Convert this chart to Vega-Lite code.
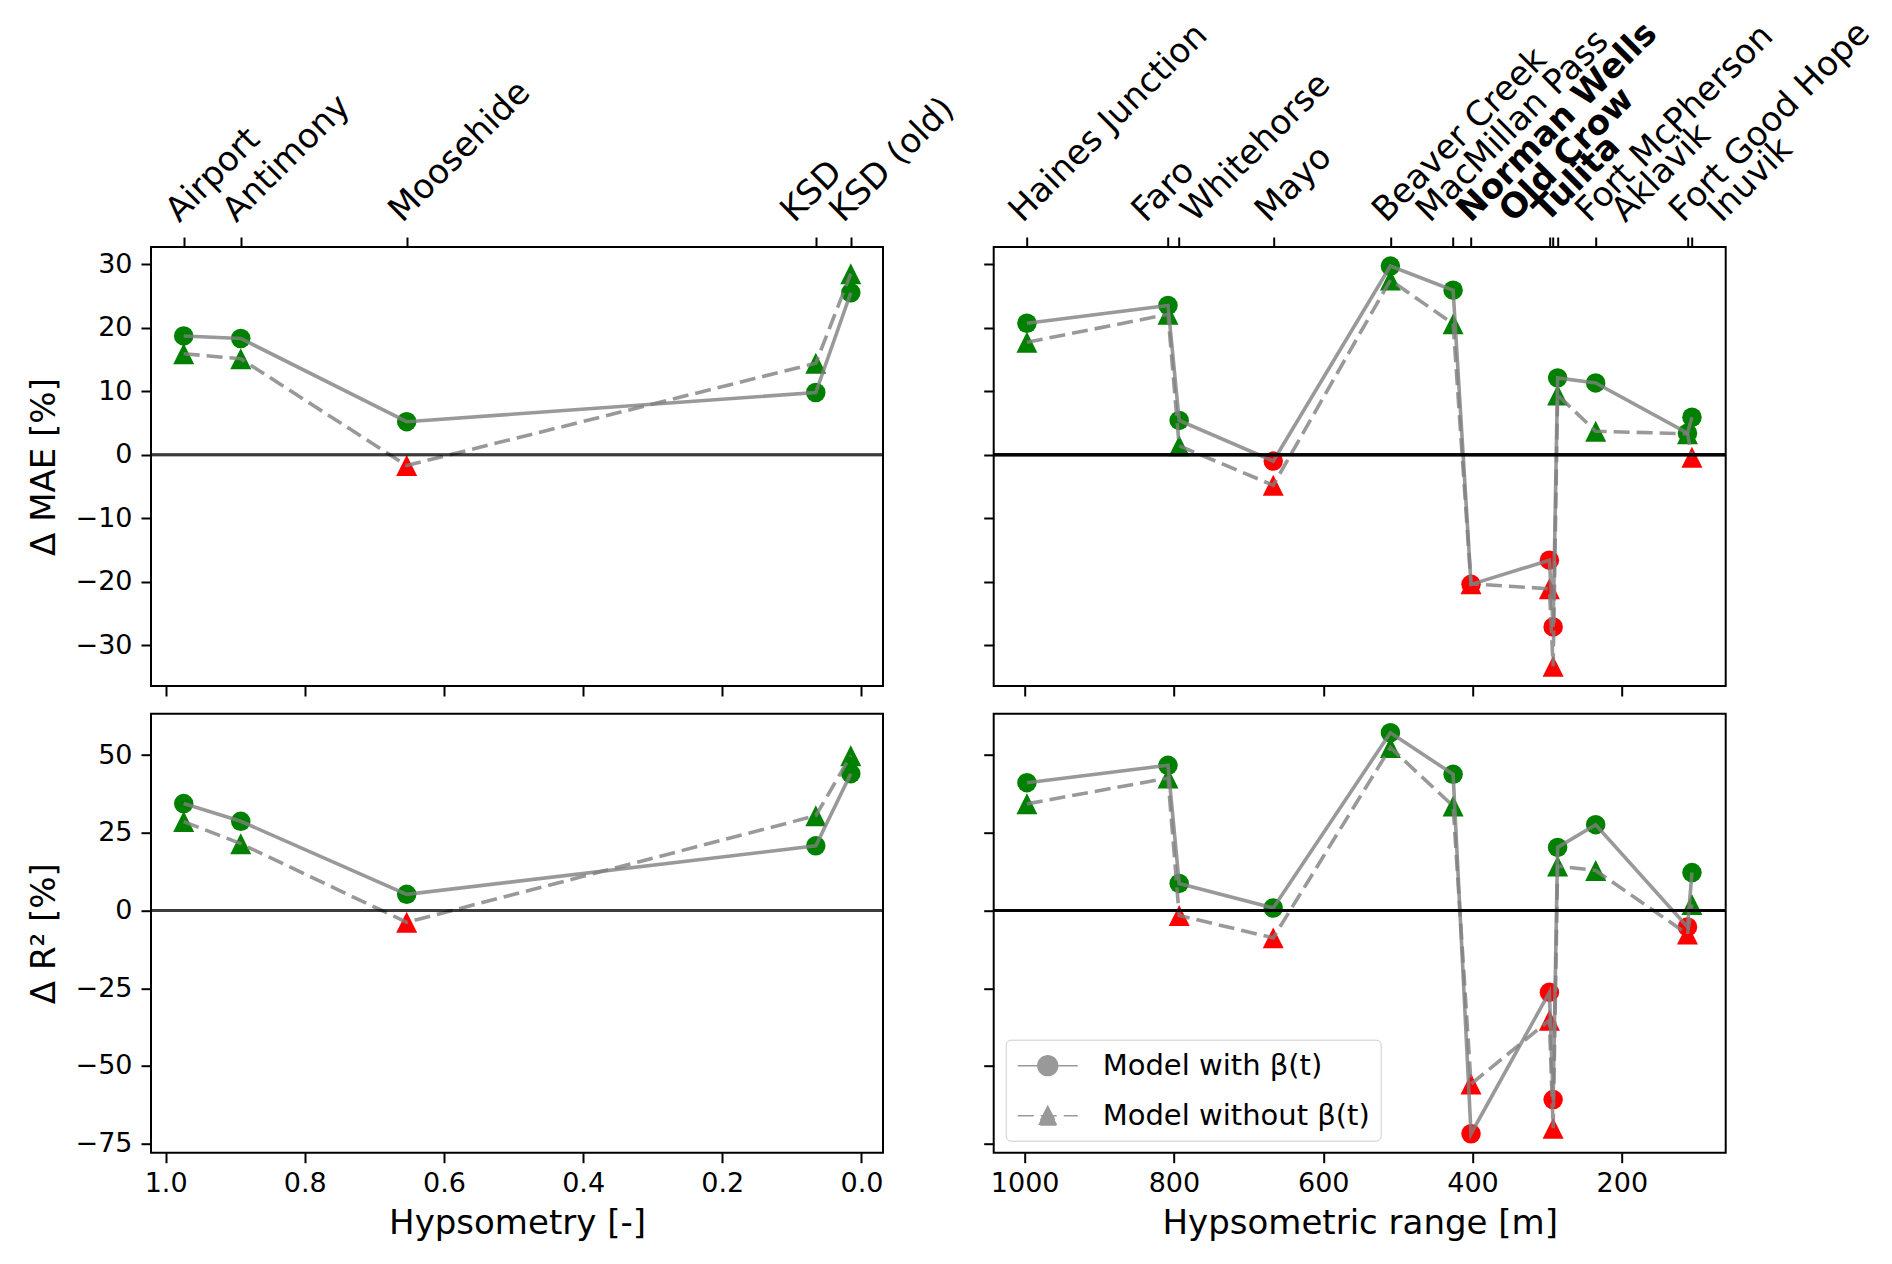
{
  "$schema": "https://vega.github.io/schema/vega-lite/v6.json",
  "background": "white",
  "padding": {"left": 26, "top": 14, "right": 5, "bottom": 5},
  "datasets": {
    "stations": [
      {"group": "hyps", "station": "Airport", "x": 0.974, "metric": "MAE", "beta": 18.7, "nobeta": 15.9},
      {"group": "hyps", "station": "Antimony", "x": 0.892, "metric": "MAE", "beta": 18.3, "nobeta": 15.1},
      {"group": "hyps", "station": "Moosehide", "x": 0.6535, "metric": "MAE", "beta": 5.2, "nobeta": -1.7},
      {"group": "hyps", "station": "KSD", "x": 0.0656, "metric": "MAE", "beta": 9.8, "nobeta": 14.4},
      {"group": "hyps", "station": "KSD (old)", "x": 0.0153, "metric": "MAE", "beta": 25.5, "nobeta": 28.5},
      {"group": "hyps", "station": "Airport", "x": 0.974, "metric": "R2", "beta": 34.4, "nobeta": 28.6},
      {"group": "hyps", "station": "Antimony", "x": 0.892, "metric": "R2", "beta": 28.7, "nobeta": 21.5},
      {"group": "hyps", "station": "Moosehide", "x": 0.6535, "metric": "R2", "beta": 5.2, "nobeta": -3.8},
      {"group": "hyps", "station": "KSD", "x": 0.0656, "metric": "R2", "beta": 20.8, "nobeta": 30.5},
      {"group": "hyps", "station": "KSD (old)", "x": 0.0153, "metric": "R2", "beta": 44.0, "nobeta": 49.8},
      {"group": "range", "station": "Haines Junction", "x": 997, "metric": "MAE", "beta": 20.7, "nobeta": 17.7},
      {"group": "range", "station": "Faro", "x": 808, "metric": "MAE", "beta": 23.5, "nobeta": 22.1},
      {"group": "range", "station": "Whitehorse", "x": 793, "metric": "MAE", "beta": 5.4, "nobeta": 1.4},
      {"group": "range", "station": "Mayo", "x": 667, "metric": "MAE", "beta": -1.0, "nobeta": -4.8},
      {"group": "range", "station": "Beaver Creek", "x": 510, "metric": "MAE", "beta": 29.7, "nobeta": 27.5},
      {"group": "range", "station": "MacMillan Pass", "x": 426, "metric": "MAE", "beta": 25.9, "nobeta": 20.6},
      {"group": "range", "station": "Norman Wells", "x": 402, "metric": "MAE", "beta": -20.4, "nobeta": -20.3},
      {"group": "range", "station": "Old Crow", "x": 297, "metric": "MAE", "beta": -16.6, "nobeta": -21.1},
      {"group": "range", "station": "Tulita", "x": 292, "metric": "MAE", "beta": -27.1, "nobeta": -33.3},
      {"group": "range", "station": "Fort McPherson", "x": 286, "metric": "MAE", "beta": 12.1, "nobeta": 9.4},
      {"group": "range", "station": "Aklavik", "x": 235, "metric": "MAE", "beta": 11.3, "nobeta": 3.7},
      {"group": "range", "station": "Fort Good Hope", "x": 112, "metric": "MAE", "beta": 3.4, "nobeta": 3.3},
      {"group": "range", "station": "Inuvik", "x": 106, "metric": "MAE", "beta": 5.9, "nobeta": -0.4},
      {"group": "range", "station": "Haines Junction", "x": 997, "metric": "R2", "beta": 41.1, "nobeta": 34.3},
      {"group": "range", "station": "Faro", "x": 808, "metric": "R2", "beta": 46.7, "nobeta": 42.6},
      {"group": "range", "station": "Whitehorse", "x": 793, "metric": "R2", "beta": 8.7, "nobeta": -1.6},
      {"group": "range", "station": "Mayo", "x": 667, "metric": "R2", "beta": 0.8, "nobeta": -8.8},
      {"group": "range", "station": "Beaver Creek", "x": 510, "metric": "R2", "beta": 57.2, "nobeta": 52.4},
      {"group": "range", "station": "MacMillan Pass", "x": 426, "metric": "R2", "beta": 43.8, "nobeta": 33.6},
      {"group": "range", "station": "Norman Wells", "x": 402, "metric": "R2", "beta": -71.8, "nobeta": -55.8},
      {"group": "range", "station": "Old Crow", "x": 297, "metric": "R2", "beta": -26.3, "nobeta": -35.3},
      {"group": "range", "station": "Tulita", "x": 292, "metric": "R2", "beta": -60.8, "nobeta": -70.0},
      {"group": "range", "station": "Fort McPherson", "x": 286, "metric": "R2", "beta": 20.3, "nobeta": 14.3},
      {"group": "range", "station": "Aklavik", "x": 235, "metric": "R2", "beta": 27.6, "nobeta": 12.9},
      {"group": "range", "station": "Fort Good Hope", "x": 112, "metric": "R2", "beta": -5.3, "nobeta": -7.6},
      {"group": "range", "station": "Inuvik", "x": 106, "metric": "R2", "beta": 12.2, "nobeta": 1.9}
    ]
  },
  "data": {"name": "stations"},
  "columns": 2,
  "spacing": {"row": 27.7, "column": 110.7},
  "bounds": "flush",
  "resolve": {
    "scale": {"shape": "independent", "strokeDash": "independent"},
    "legend": {"shape": "independent", "strokeDash": "independent"}
  },
  "concat": [
    {
      "width": 732,
      "height": 439,
      "transform": [{"filter": "datum.group == 'hyps' && datum.metric == 'MAE'"}],
      "resolve": {"axis": {"x": "independent", "y": "independent"}},
      "layer": [
        {
          "mark": {"type": "point", "shape": "M0,-1L-1,1L1,1Z", "filled": true, "size": 440, "opacity": 1, "strokeWidth": 0},
          "encoding": {
            "x": {"field": "x", "type": "quantitative", "scale": {"domain": [-0.031, 1.021], "reverse": true, "nice": false, "zero": false}, "axis": null},
            "y": {"field": "nobeta", "type": "quantitative", "scale": {"domain": [-36.4, 32.7], "nice": false, "zero": false}, "axis": null},
            "color": {"condition": {"test": "datum.nobeta > 0", "value": "#008000"}, "value": "#ff0000"}
          }
        },
        {
          "mark": {"type": "circle", "size": 380, "opacity": 1},
          "encoding": {
            "x": {
              "field": "x", "type": "quantitative",
              "scale": {"domain": [-0.031, 1.021], "reverse": true, "nice": false, "zero": false},
              "axis": {
                "orient": "top", "title": null, "values": [0.974, 0.892, 0.6535, 0.0656, 0.0153],
                "labelExpr": "datum.value > 0.9 ? 'Airport' : datum.value > 0.8 ? 'Antimony' : datum.value > 0.5 ? 'Moosehide' : datum.value > 0.04 ? 'KSD' : 'KSD (old)'",
                "labelOffset": {"condition": [
                  {"test": "datum.value > 0.04 && datum.value < 0.1", "value": -17},
                  {"test": "datum.value < 0.04", "value": -3}
                ], "value": 0},
                "labelAngle": -45, "labelAlign": "left", "labelBaseline": "bottom", "labelFontSize": 34, "labelPadding": 9,
                "labelOverlap": false, "labelBound": false, "labelFlush": false, "labelLimit": 1000
              }
            },
            "y": {"field": "beta", "type": "quantitative", "scale": {"domain": [-36.4, 32.7], "nice": false, "zero": false}, "axis": null},
            "color": {"condition": {"test": "datum.beta > 0", "value": "#008000"}, "value": "#ff0000"}
          }
        },
        {
          "mark": {"type": "line", "color": "#808080", "opacity": 0.8, "strokeWidth": 3.6},
          "encoding": {
            "x": {"field": "x", "type": "quantitative", "scale": {"domain": [-0.031, 1.021], "reverse": true, "nice": false, "zero": false},
              "axis": {"orient": "bottom", "values": [0, 0.2, 0.4, 0.6, 0.8, 1], "labels": false, "title": null}},
            "y": {"field": "beta", "type": "quantitative", "scale": {"domain": [-36.4, 32.7], "nice": false, "zero": false},
              "axis": {"orient": "left", "values": [-30, -20, -10, 0, 10, 20, 30], "title": "Δ MAE [%]"}}
          }
        },
        {
          "mark": {"type": "line", "color": "#808080", "opacity": 0.8, "strokeWidth": 3.6, "strokeDash": [16, 7]},
          "encoding": {
            "x": {"field": "x", "type": "quantitative", "scale": {"domain": [-0.031, 1.021], "reverse": true, "nice": false, "zero": false}, "axis": null},
            "y": {"field": "nobeta", "type": "quantitative", "scale": {"domain": [-36.4, 32.7], "nice": false, "zero": false}, "axis": null}
          }
        },
        {
          "mark": {"type": "rule", "color": "#000000", "opacity": 0.5, "strokeOpacity": 0.5, "strokeWidth": 2.8},
          "encoding": {"y": {"datum": 0, "type": "quantitative", "axis": null}}
        }
      ]
    },
    {
      "width": 732,
      "height": 439,
      "transform": [{"filter": "datum.group == 'range' && datum.metric == 'MAE'"}],
      "resolve": {"axis": {"x": "independent", "y": "independent"}},
      "layer": [
        {
          "mark": {"type": "point", "shape": "M0,-1L-1,1L1,1Z", "filled": true, "size": 440, "opacity": 1, "strokeWidth": 0},
          "encoding": {
            "x": {"field": "x", "type": "quantitative", "scale": {"domain": [60.8, 1041.5], "reverse": true, "nice": false, "zero": false}, "axis": null},
            "y": {"field": "nobeta", "type": "quantitative", "scale": {"domain": [-36.4, 32.7], "nice": false, "zero": false}, "axis": null},
            "color": {"condition": {"test": "datum.nobeta > 0", "value": "#008000"}, "value": "#ff0000"}
          }
        },
        {
          "mark": {"type": "circle", "size": 380, "opacity": 1},
          "encoding": {
            "x": {
              "field": "x", "type": "quantitative",
              "scale": {"domain": [60.8, 1041.5], "reverse": true, "nice": false, "zero": false},
              "axis": {
                "orient": "top", "title": null, "values": [997, 808, 793, 667, 510, 426, 402, 297, 292, 286, 235, 112, 106],
                "labelExpr": "datum.value > 900 ? 'Haines Junction' : datum.value > 800 ? 'Faro' : datum.value > 750 ? 'Whitehorse' : datum.value > 600 ? 'Mayo' : datum.value > 450 ? 'Beaver Creek' : datum.value > 415 ? 'MacMillan Pass' : datum.value > 350 ? 'Norman Wells' : datum.value > 295 ? 'Old Crow' : datum.value > 289 ? 'Tulita' : datum.value > 260 ? 'Fort McPherson' : datum.value > 150 ? 'Aklavik' : datum.value > 109 ? 'Fort Good Hope' : 'Inuvik'",
                "labelFontWeight": {"condition": {"test": "datum.value > 289 && datum.value < 410", "value": "bold"}, "value": "normal"},
                "labelOffset": {"condition": [
                  {"test": "datum.value == 808", "value": -18},
                  {"test": "datum.value == 793", "value": 20},
                  {"test": "datum.value == 426", "value": -19},
                  {"test": "datum.value == 402", "value": 4},
                  {"test": "datum.value == 297", "value": -32},
                  {"test": "datum.value == 292", "value": -2},
                  {"test": "datum.value == 286", "value": 36},
                  {"test": "datum.value == 235", "value": 34},
                  {"test": "datum.value == 106", "value": 34}
                ], "value": 0},
                "labelAngle": -45, "labelAlign": "left", "labelBaseline": "bottom", "labelFontSize": 34, "labelPadding": 9,
                "labelOverlap": false, "labelBound": false, "labelFlush": false, "labelLimit": 1000
              }
            },
            "y": {"field": "beta", "type": "quantitative", "scale": {"domain": [-36.4, 32.7], "nice": false, "zero": false}, "axis": null},
            "color": {"condition": {"test": "datum.beta > 0", "value": "#008000"}, "value": "#ff0000"}
          }
        },
        {
          "mark": {"type": "line", "color": "#808080", "opacity": 0.8, "strokeWidth": 3.6},
          "encoding": {
            "x": {"field": "x", "type": "quantitative", "scale": {"domain": [60.8, 1041.5], "reverse": true, "nice": false, "zero": false},
              "axis": {"orient": "bottom", "values": [200, 400, 600, 800, 1000], "labels": false, "title": null}},
            "y": {"field": "beta", "type": "quantitative", "scale": {"domain": [-36.4, 32.7], "nice": false, "zero": false},
              "axis": {"orient": "left", "values": [-30, -20, -10, 0, 10, 20, 30], "labels": false, "title": null}}
          }
        },
        {
          "mark": {"type": "line", "color": "#808080", "opacity": 0.8, "strokeWidth": 3.6, "strokeDash": [16, 7]},
          "encoding": {
            "x": {"field": "x", "type": "quantitative", "scale": {"domain": [60.8, 1041.5], "reverse": true, "nice": false, "zero": false}, "axis": null},
            "y": {"field": "nobeta", "type": "quantitative", "scale": {"domain": [-36.4, 32.7], "nice": false, "zero": false}, "axis": null}
          }
        },
        {
          "mark": {"type": "rule", "color": "#000000", "opacity": 0.5, "strokeOpacity": 0.5, "strokeWidth": 2.8},
          "encoding": {"y": {"datum": 0, "type": "quantitative", "axis": null}}
        }
      ]
    },
    {
      "width": 732,
      "height": 439,
      "transform": [{"filter": "datum.group == 'hyps' && datum.metric == 'R2'"}],
      "resolve": {"axis": {"x": "independent", "y": "independent"}},
      "layer": [
        {
          "mark": {"type": "point", "shape": "M0,-1L-1,1L1,1Z", "filled": true, "size": 440, "opacity": 1, "strokeWidth": 0},
          "encoding": {
            "x": {"field": "x", "type": "quantitative", "scale": {"domain": [-0.031, 1.021], "reverse": true, "nice": false, "zero": false}, "axis": null},
            "y": {"field": "nobeta", "type": "quantitative", "scale": {"domain": [-77.9, 63.3], "nice": false, "zero": false}, "axis": null},
            "color": {"condition": {"test": "datum.nobeta > 0", "value": "#008000"}, "value": "#ff0000"}
          }
        },
        {
          "mark": {"type": "circle", "size": 380, "opacity": 1},
          "encoding": {
            "x": {"field": "x", "type": "quantitative", "scale": {"domain": [-0.031, 1.021], "reverse": true, "nice": false, "zero": false}, "axis": null},
            "y": {"field": "beta", "type": "quantitative", "scale": {"domain": [-77.9, 63.3], "nice": false, "zero": false}, "axis": null},
            "color": {"condition": {"test": "datum.beta > 0", "value": "#008000"}, "value": "#ff0000"}
          }
        },
        {
          "mark": {"type": "line", "color": "#808080", "opacity": 0.8, "strokeWidth": 3.6},
          "encoding": {
            "x": {"field": "x", "type": "quantitative", "scale": {"domain": [-0.031, 1.021], "reverse": true, "nice": false, "zero": false},
              "axis": {"orient": "bottom", "values": [0, 0.2, 0.4, 0.6, 0.8, 1], "format": ".1f", "title": "Hypsometry [-]"}},
            "y": {"field": "beta", "type": "quantitative", "scale": {"domain": [-77.9, 63.3], "nice": false, "zero": false},
              "axis": {"orient": "left", "values": [-75, -50, -25, 0, 25, 50], "title": "Δ R² [%]"}}
          }
        },
        {
          "mark": {"type": "line", "color": "#808080", "opacity": 0.8, "strokeWidth": 3.6, "strokeDash": [16, 7]},
          "encoding": {
            "x": {"field": "x", "type": "quantitative", "scale": {"domain": [-0.031, 1.021], "reverse": true, "nice": false, "zero": false}, "axis": null},
            "y": {"field": "nobeta", "type": "quantitative", "scale": {"domain": [-77.9, 63.3], "nice": false, "zero": false}, "axis": null}
          }
        },
        {
          "mark": {"type": "rule", "color": "#000000", "opacity": 0.5, "strokeOpacity": 0.5, "strokeWidth": 2.8},
          "encoding": {"y": {"datum": 0, "type": "quantitative", "axis": null}}
        }
      ]
    },
    {
      "width": 732,
      "height": 439,
      "transform": [{"filter": "datum.group == 'range' && datum.metric == 'R2'"}],
      "resolve": {"axis": {"x": "independent", "y": "independent"}},
      "layer": [
        {
          "mark": {"type": "point", "shape": "M0,-1L-1,1L1,1Z", "filled": true, "size": 440, "opacity": 1, "strokeWidth": 0},
          "encoding": {
            "x": {"field": "x", "type": "quantitative", "scale": {"domain": [60.8, 1041.5], "reverse": true, "nice": false, "zero": false}, "axis": null},
            "y": {"field": "nobeta", "type": "quantitative", "scale": {"domain": [-77.9, 63.3], "nice": false, "zero": false}, "axis": null},
            "color": {"condition": {"test": "datum.nobeta > 0", "value": "#008000"}, "value": "#ff0000"}
          }
        },
        {
          "mark": {"type": "circle", "size": 380, "opacity": 1},
          "encoding": {
            "x": {"field": "x", "type": "quantitative", "scale": {"domain": [60.8, 1041.5], "reverse": true, "nice": false, "zero": false}, "axis": null},
            "y": {"field": "beta", "type": "quantitative", "scale": {"domain": [-77.9, 63.3], "nice": false, "zero": false}, "axis": null},
            "color": {"condition": {"test": "datum.beta > 0", "value": "#008000"}, "value": "#ff0000"}
          }
        },
        {
          "mark": {"type": "line", "color": "#808080", "opacity": 0.8, "strokeWidth": 3.6},
          "encoding": {
            "x": {"field": "x", "type": "quantitative", "scale": {"domain": [60.8, 1041.5], "reverse": true, "nice": false, "zero": false},
              "axis": {"orient": "bottom", "values": [200, 400, 600, 800, 1000], "format": "d", "title": "Hypsometric range [m]"}},
            "y": {"field": "beta", "type": "quantitative", "scale": {"domain": [-77.9, 63.3], "nice": false, "zero": false},
              "axis": {"orient": "left", "values": [-75, -50, -25, 0, 25, 50], "labels": false, "title": null}}
          }
        },
        {
          "mark": {"type": "line", "color": "#808080", "opacity": 0.8, "strokeWidth": 3.6, "strokeDash": [16, 7]},
          "encoding": {
            "x": {"field": "x", "type": "quantitative", "scale": {"domain": [60.8, 1041.5], "reverse": true, "nice": false, "zero": false}, "axis": null},
            "y": {"field": "nobeta", "type": "quantitative", "scale": {"domain": [-77.9, 63.3], "nice": false, "zero": false}, "axis": null}
          }
        },
        {
          "mark": {"type": "rule", "color": "#000000", "opacity": 0.5, "strokeOpacity": 0.5, "strokeWidth": 2.8},
          "encoding": {"y": {"datum": 0, "type": "quantitative", "axis": null}}
        },
        {
          "transform": [{"fold": ["beta", "nobeta"], "as": ["model", "value"]}, {"filter": "false"}],
          "mark": {"type": "point", "filled": true, "color": "#999999", "stroke": "#999999", "strokeWidth": 3, "opacity": 1},
          "encoding": {
            "shape": {
              "field": "model", "type": "nominal",
              "scale": {
                "domain": ["beta", "nobeta"],
                "range": [
                  "M-0.93,0L3.07,0M0.41,0A0.66,0.66 0 1,1 1.73,0A0.66,0.66 0 1,1 0.41,0Z",
                  "M-0.93,0L3.07,0M1.07,-0.62L0.43,0.62L1.71,0.62Z"
                ]
              },
              "legend": {
                "title": null, "orient": "bottom-left", "offset": 12, "padding": 10,
                "fillColor": "white", "strokeColor": "#cccccc", "cornerRadius": 5,
                "labelFont": "DejaVu Sans", "labelFontSize": 29, "labelColor": "black", "labelLimit": 1000,
                "labelExpr": "datum.label == 'beta' ? 'Model with β(t)' : 'Model without β(t)'",
                "symbolSize": 900, "labelOffset": 55, "rowPadding": 19,
                "encode": {"symbols": {"update": {"stroke": {"value": "#999999"}, "strokeWidth": {"value": 3.2}, "fill": {"value": "#999999"}, "opacity": {"value": 1}}}}
              }
            },
            "strokeDash": {
              "field": "model", "type": "nominal",
              "scale": {"domain": ["beta", "nobeta"], "range": [[1, 0], [16, 7]]},
              "legend": {
                "title": null, "orient": "bottom-left", "offset": 12, "padding": 10,
                "fillColor": "white", "strokeColor": "#cccccc", "cornerRadius": 5,
                "labelFont": "DejaVu Sans", "labelFontSize": 29, "labelColor": "black", "labelLimit": 1000,
                "labelExpr": "datum.label == 'beta' ? 'Model with β(t)' : 'Model without β(t)'",
                "symbolSize": 900, "labelOffset": 55, "rowPadding": 19,
                "encode": {"symbols": {"update": {"stroke": {"value": "#999999"}, "strokeWidth": {"value": 3.2}, "fill": {"value": "#999999"}, "opacity": {"value": 1}}}}
              }
            }
          }
        }
      ]
    }
  ],
  "config": {
    "font": "DejaVu Sans",
    "view": {"stroke": "black", "strokeWidth": 2},
    "axis": {
      "grid": false, "domain": false, "ticks": true,
      "tickColor": "black", "tickWidth": 2, "tickSize": 10,
      "labelFont": "DejaVu Sans", "labelFontSize": 27, "labelColor": "black", "labelPadding": 8,
      "titleFont": "DejaVu Sans", "titleFontSize": 34, "titleFontWeight": "normal", "titleColor": "black"
    },
    "axisY": {"titlePadding": 14, "labelPadding": 9},
    "axisX": {"titlePadding": 10}
  }
}
